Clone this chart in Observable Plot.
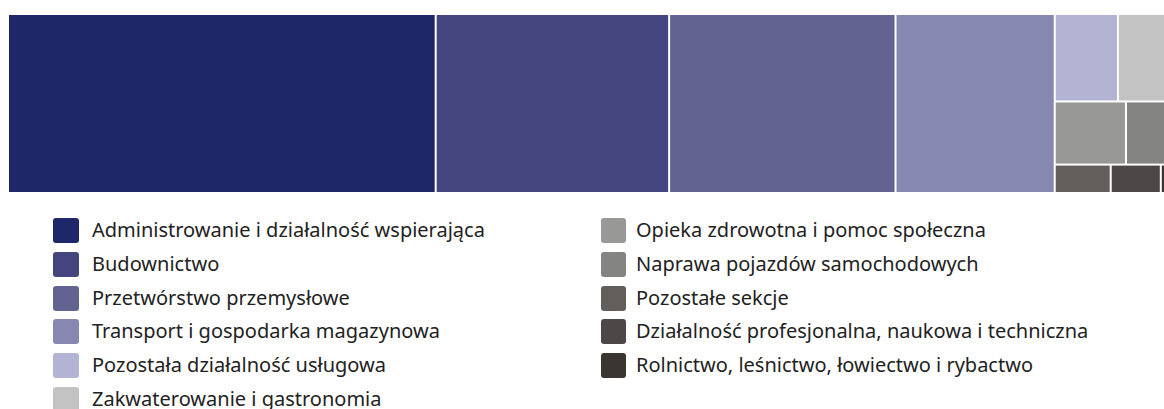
<!DOCTYPE html>
<html>
<head>
<meta charset="utf-8">
<script src="https://cdn.jsdelivr.net/npm/d3@7"></script>
<script src="https://cdn.jsdelivr.net/npm/@observablehq/plot@0.6"></script>
<style>
  html, body { margin: 0; padding: 0; background: #fff; overflow: hidden; }
  #chart svg { display: block; }
  #legend {
    display: grid;
    grid-auto-flow: column;
    grid-template-rows: repeat(6, 33.8px);
    grid-template-columns: 548px 540px;
    padding-left: 53px;
    padding-top: 18px;
    font-family: "Noto Sans", sans-serif;
    font-size: 20px;
    color: #222;
  }
  .item { display: flex; align-items: flex-start; white-space: nowrap; }
  .sw { width: 26px; height: 25px; border-radius: 3px; margin-right: 13px; flex: none; }
  .item.right .sw { width: 25px; margin-right: 10px; }
  .lab { line-height: 24px; }
</style>
</head>
<body>
<div id="chart"></div>
<div id="legend"></div>
<script>
const sectors = [
  "Administrowanie i działalność wspierająca",
  "Budownictwo",
  "Przetwórstwo przemysłowe",
  "Transport i gospodarka magazynowa",
  "Pozostała działalność usługowa",
  "Zakwaterowanie i gastronomia",
  "Opieka zdrowotna i pomoc społeczna",
  "Naprawa pojazdów samochodowych",
  "Pozostałe sekcje",
  "Działalność profesjonalna, naukowa i techniczna",
  "Rolnictwo, leśnictwo, łowiectwo i rybactwo"
];
const shares = [36.59, 19.97, 19.37, 13.62, 2.64, 2.47, 2.15, 1.54, 0.76, 0.68, 0.22];
const colors = ["#1e2868", "#44457e", "#636392", "#8788b1", "#b3b3d4", "#c3c3c3",
                "#989896", "#848482", "#625e5c", "#4c4847", "#3a3533"];

const table = sectors.map((s, i) => ({sector: s, value: shares[i]}));

// squarified tiling whose row orientation, once horizontal, stays horizontal
function tile(parent, x0, y0, x1, y1) {
  const nodes = parent.children;
  let value = parent.value, i0 = 0, dice = false;
  while (i0 < nodes.length) {
    const dx = x1 - x0, dy = y1 - y0;
    if (dx < dy) dice = true;
    const side = dice ? dx : dy, other = dice ? dy : dx;
    const worst = (sum, mn, mx) => {
      const t = other * sum / value;
      return Math.max((side * mx / sum) / t, t / (side * mn / sum));
    };
    let i1 = i0 + 1, sum = nodes[i0].value, mn = sum, mx = sum;
    let best = worst(sum, mn, mx);
    for (; i1 < nodes.length; ++i1) {
      const v = nodes[i1].value;
      const r = worst(sum + v, Math.min(mn, v), Math.max(mx, v));
      if (r > best) break;
      sum += v; mn = Math.min(mn, v); mx = Math.max(mx, v); best = r;
    }
    const row = {children: nodes.slice(i0, i1), value: sum};
    if (dice) d3.treemapDice(row, x0, y0, x1, y0 += dy * sum / value);
    else d3.treemapSlice(row, x0, y0, x0 += dx * sum / value, y1);
    value -= sum; i0 = i1;
  }
}

const W = 1167, H = 177;
const root = d3.hierarchy({children: table}).sum(d => d.value || 0);
d3.treemap().size([W, H]).paddingInner(2).tile(tile)(root);
const leaves = root.leaves();

const plot = Plot.plot({
  width: 1164,
  height: 200,
  marginLeft: 9,
  marginRight: 0,
  marginTop: 15,
  marginBottom: 8,
  x: {domain: [0, W], range: [9, 9 + W], axis: null},
  y: {domain: [0, H], range: [15, 15 + H], axis: null},
  color: {domain: sectors, range: colors},
  style: {background: "#fff"},
  marks: [
    Plot.rect(leaves, {
      x1: d => d.x0, x2: d => d.x1,
      y1: d => d.y0, y2: d => d.y1,
      fill: d => d.data.sector,
      clip: true
    })
  ]
});
document.getElementById("chart").append(plot);

const legend = d3.select("#legend");
sectors.forEach((s, i) => {
  const it = legend.append("div").attr("class", i < 6 ? "item" : "item right");
  it.append("div").attr("class", "sw").style("background", colors[i]);
  it.append("div").attr("class", "lab").text(s);
});
</script>
</body>
</html>
